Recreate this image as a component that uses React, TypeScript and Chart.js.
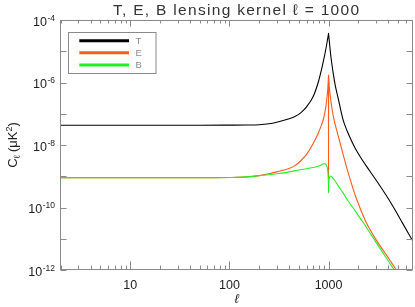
import React, { useEffect, useRef } from 'react';
import { Chart, registerables } from 'chart.js';

Chart.register(...registerables);

// ---- data ----
const ELL = [
  2, 5, 10, 20, 50, 100, 150, 200, 250, 300, 400, 458, 520, 600, 700, 786, 850, 883, 920, 946,
  970, 985, 995, 999, 1000, 1001, 1005, 1020, 1050, 1080, 1120, 1170, 1250, 1400, 1550, 1650,
  1757, 1870, 2000, 2200, 2400, 3000, 3800, 4600, 5580, 7000,
];

const T_VALUES = [
  4.27e-8, 4.27e-8, 4.27e-8, 4.27e-8, 4.27e-8, 4.32e-8, 4.37e-8, 4.47e-8, 4.79e-8, 5.37e-8,
  6.92e-8, 8.13e-8, 1.05e-7, 1.66e-7, 3.55e-7, 1.0e-6, 2.63e-6, 4.47e-6, 8.32e-6, 1.32e-5,
  2.09e-5, 2.75e-5, 3.31e-5, 3.59e-5, 3.72e-5, 3.63e-5, 3.16e-5, 2.0e-5, 7.94e-6, 3.98e-6,
  1.78e-6, 7.94e-7, 3.16e-7, 6.46e-8, 2.69e-8, 1.7e-8,
  1.12e-8, 7.59e-9, 5.25e-9, 3.24e-9, 2.14e-9, 7.76e-10, 2.51e-10, 9.33e-11, 3.16e-11, 8.91e-12,
];

const E_VALUES = [
  8.91e-10, 8.91e-10, 8.91e-10, 8.91e-10, 8.91e-10, 9.12e-10, 9.55e-10, 1.05e-9, 1.2e-9, 1.38e-9,
  1.78e-9, 2.19e-9, 3.02e-9, 5.01e-9, 1.12e-8, 2.34e-8, 4.47e-8, 6.31e-8, 1.12e-7, 2.0e-7,
  3.98e-7, 7.08e-7, 1.26e-6, 1.7e-6, 3.16e-10, 1.7e-6, 1.41e-6, 7.08e-7, 3.02e-7, 1.58e-7,
  7.94e-8, 4.37e-8, 2.0e-8, 5.13e-9, 1.58e-9, 8.13e-10,
  4.27e-10, 2.34e-10, 1.32e-10, 6.17e-11, 3.31e-11, 9.55e-12, 3.16e-12, 1.26e-12, 5.01e-13, 1.66e-13,
];

const B_VALUES = [
  8.91e-10, 8.91e-10, 8.91e-10, 8.91e-10, 8.91e-10, 9.12e-10, 9.55e-10, 1.05e-9, 1.12e-9, 1.2e-9,
  1.38e-9, 1.51e-9, 1.62e-9, 1.74e-9, 1.91e-9, 2.09e-9, 2.34e-9, 2.51e-9, 2.51e-9, 2.34e-9,
  1.91e-9, 1.41e-9, 7.94e-10, 5.01e-10, 2.95e-10, 3.98e-10, 6.31e-10, 8.91e-10, 1.02e-9, 9.55e-10,
  8.32e-10, 6.92e-10, 5.01e-10, 2.95e-10, 1.74e-10, 1.32e-10,
  1.0e-10, 7.59e-11, 5.5e-11, 3.55e-11, 2.34e-11, 7.94e-12, 2.51e-12, 1.0e-12, 3.98e-13, 1.32e-13,
];

const SERIES_NAMES = ['T', 'E', 'B'];
const SERIES_COLORS = ['#000000', '#ff5a1a', '#22f022'];

const X_MIN = 2;
const X_MAX = 7000;
const Y_MIN = 1e-12;
const Y_MAX = 1e-4;

const X_MAJOR_TICKS = [10, 100, 1000];
const X_TICK_LABELS = ['10', '100', '1000'];
const X_MINOR_TICKS = [
  2, 3, 4, 5, 6, 7, 8, 9, 20, 30, 40, 50, 60, 70, 80, 90, 200, 300, 400, 500, 600, 700, 800, 900,
  2000, 3000, 4000, 5000, 6000, 7000,
];
const Y_TICKS = [1e-12, 1e-11, 1e-10, 1e-9, 1e-8, 1e-7, 1e-6, 1e-5, 1e-4];
const Y_LABEL_TICKS = [1e-4, 1e-6, 1e-8, 1e-10, 1e-12];
const Y_LABEL_EXPONENTS = ['-4', '-6', '-8', '-10', '-12'];

const TITLE = 'T, E, B lensing kernel \u2113 = 1000';
const X_TITLE = '\u2113';

const FONT = '"Liberation Sans", "DejaVu Sans", Arial, sans-serif';
const AXIS_COLOR = '#8a8a8a';
const TEXT_COLOR = '#222222';

const decorPlugin = {
  id: 'decor',
  afterDraw(chart: any) {
    const { ctx, chartArea: a, scales } = chart;
    const xs = scales.x;
    const ys = scales.y;
    const L = Math.round(a.left) - 0.5;
    const R = Math.floor(a.right) + 0.5;
    const T = Math.round(a.top) + 0.5;
    const B = Math.round(a.bottom) - 0.5;
    ctx.save();

    // frame
    ctx.strokeStyle = AXIS_COLOR;
    ctx.lineWidth = 1;
    ctx.strokeRect(L, T, R - L, B - T);

    // ticks (inward on all four sides)
    ctx.beginPath();
    Y_TICKS.forEach((v) => {
      const py = Math.round(ys.getPixelForValue(v)) + 0.5;
      ctx.moveTo(L, py);
      ctx.lineTo(L + 6, py);
      ctx.moveTo(R, py);
      ctx.lineTo(R - 6, py);
    });
    X_MAJOR_TICKS.forEach((v) => {
      const px = Math.round(xs.getPixelForValue(v)) + 0.5;
      ctx.moveTo(px, B);
      ctx.lineTo(px, B - 8);
      ctx.moveTo(px, T);
      ctx.lineTo(px, T + 6);
    });
    X_MINOR_TICKS.forEach((v) => {
      const px = Math.round(xs.getPixelForValue(v)) + 0.5;
      if (px > R - 1) return;
      ctx.moveTo(px, B);
      ctx.lineTo(px, B - 4);
      ctx.moveTo(px, T);
      ctx.lineTo(px, T + 3);
    });
    ctx.stroke();

    ctx.fillStyle = TEXT_COLOR;

    // y labels 10^n
    Y_LABEL_TICKS.forEach((v, i) => {
      const py = ys.getPixelForValue(v);
      const ex = Y_LABEL_EXPONENTS[i];
      ctx.textAlign = 'right';
      ctx.textBaseline = 'alphabetic';
      ctx.font = `8.5px ${FONT}`;
      const xr = a.left - 6;
      ctx.fillText(ex, xr, py + 0.5);
      const w = ctx.measureText(ex).width;
      ctx.font = `12.5px ${FONT}`;
      ctx.fillText('10', xr - w - 0.5, py + 5.5);
    });

    // x labels
    ctx.textAlign = 'center';
    ctx.textBaseline = 'alphabetic';
    ctx.font = `12.5px ${FONT}`;
    X_MAJOR_TICKS.forEach((v, i) => {
      ctx.fillText(X_TICK_LABELS[i], xs.getPixelForValue(v), a.bottom + 18.5);
    });

    // x title
    ctx.font = `italic 13px ${FONT}`;
    ctx.fillText(X_TITLE, (a.left + a.right) / 2, a.bottom + 33);

    // title
    ctx.font = `15.5px ${FONT}`;
    ctx.fillStyle = '#333333';
    try {
      (ctx as any).letterSpacing = '1.3px';
    } catch (e) {
      /* ignore */
    }
    ctx.fillText(TITLE, (a.left + a.right) / 2, 15);
    try {
      (ctx as any).letterSpacing = '0px';
    } catch (e) {
      /* ignore */
    }

    // y title: C_l (uK^2)
    ctx.save();
    ctx.translate(17, (a.top + a.bottom) / 2);
    ctx.rotate(-Math.PI / 2);
    ctx.fillStyle = TEXT_COLOR;
    ctx.textAlign = 'left';
    const parts = [
      { t: 'C', f: `13px ${FONT}`, dy: 0 },
      { t: '\u2113', f: `9px ${FONT}`, dy: 3 },
      { t: ' (\u03bcK', f: `13px ${FONT}`, dy: 0 },
      { t: '2', f: `9px ${FONT}`, dy: -5 },
      { t: ')', f: `13px ${FONT}`, dy: 0 },
    ];
    let total = 0;
    parts.forEach((p) => {
      ctx.font = p.f;
      total += ctx.measureText(p.t).width;
    });
    let cx = -total / 2;
    parts.forEach((p) => {
      ctx.font = p.f;
      ctx.fillText(p.t, cx, p.dy);
      cx += ctx.measureText(p.t).width;
    });
    ctx.restore();

    // legend
    ctx.strokeStyle = AXIS_COLOR;
    ctx.lineWidth = 1;
    ctx.strokeRect(68.5, 32.5, 87.5, 41);
    const rows = [40.7, 52.7, 65];
    chart.data.datasets.forEach((ds: any, i: number) => {
      const yy = rows[i];
      ctx.strokeStyle = ds.borderColor;
      ctx.lineWidth = 3;
      ctx.beginPath();
      ctx.moveTo(79.3, yy);
      ctx.lineTo(129, yy);
      ctx.stroke();
      ctx.fillStyle = '#8a8a8a';
      ctx.font = `9.5px ${FONT}`;
      ctx.textAlign = 'left';
      ctx.fillText(ds.label, 135.5, yy + 3.3);
    });

    ctx.restore();
  },
};

export default function App() {
  const ref = useRef<HTMLCanvasElement>(null);
  useEffect(() => {
    document.body.style.margin = '0';
    const valuesList = [T_VALUES, E_VALUES, B_VALUES];
    const chart = new Chart(ref.current as HTMLCanvasElement, {
      type: 'line',
      data: {
        datasets: SERIES_NAMES.map((name, i) => ({
          label: name,
          data: ELL.map((l, k) => ({ x: l, y: valuesList[i][k] })),
          borderColor: SERIES_COLORS[i],
          backgroundColor: SERIES_COLORS[i],
          borderWidth: 1.1,
          pointRadius: 0,
          fill: false,
          cubicInterpolationMode: 'monotone' as const,
          order: 3 - i,
        })),
      },
      options: {
        responsive: false,
        animation: false,
        devicePixelRatio: 1,
        events: [],
        layout: { padding: { left: 61, right: 2.7, top: 20, bottom: 37 } },
        plugins: {
          legend: { display: false },
          title: { display: false },
          tooltip: { enabled: false },
        },
        scales: {
          x: { type: 'logarithmic', min: X_MIN, max: X_MAX, display: false },
          y: { type: 'logarithmic', min: Y_MIN, max: Y_MAX, display: false },
        },
      },
      plugins: [decorPlugin],
    });
    return () => chart.destroy();
  }, []);
  return (
    <canvas
      ref={ref}
      width={415}
      height={307}
      style={{ display: 'block', width: 415, height: 307 }}
    />
  );
}
